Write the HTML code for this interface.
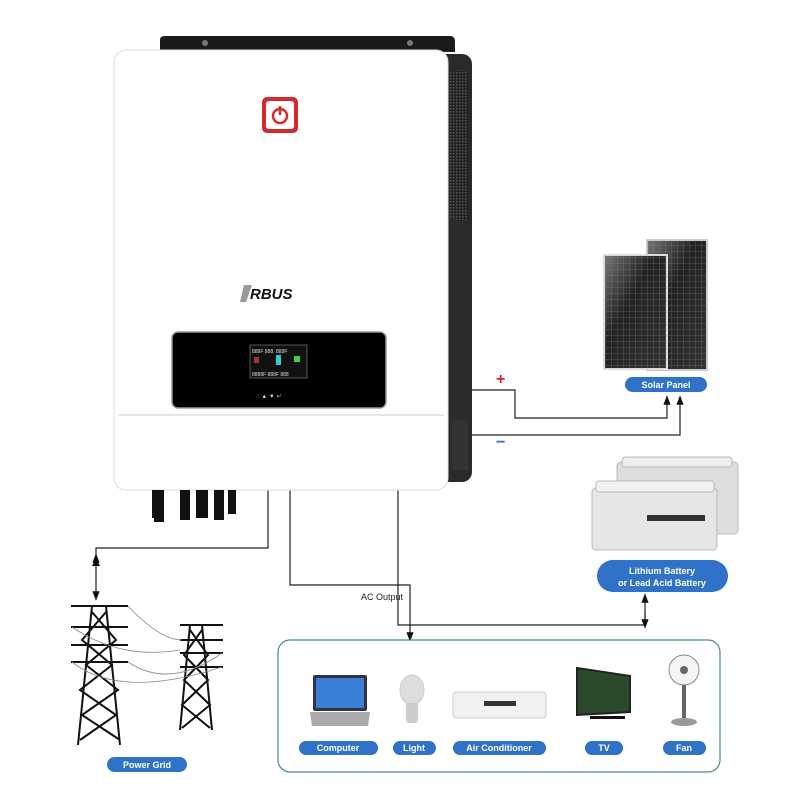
<!DOCTYPE html>
<html><head><meta charset="utf-8"><style>
html,body{margin:0;padding:0;background:#fff;width:800px;height:800px;overflow:hidden}
svg{display:block}
text{font-family:"Liberation Sans",sans-serif}
</style></head><body>
<svg width="800" height="800" viewBox="0 0 800 800" xmlns="http://www.w3.org/2000/svg">
<defs>
<marker id="ah" markerWidth="8" markerHeight="8" refX="4" refY="4" orient="auto"><path d="M0,1 L8,4 L0,7 Z" fill="#111"/></marker>
<linearGradient id="pv" x1="0" y1="0" x2="1" y2="1"><stop offset="0" stop-color="#777"/><stop offset="0.4" stop-color="#222"/><stop offset="1" stop-color="#333"/></linearGradient>
<pattern id="grid" width="6" height="6" patternUnits="userSpaceOnUse"><path d="M6 0V6M0 6H6" stroke="#888" stroke-width="0.5"/></pattern>
<pattern id="vent" width="3" height="3" patternUnits="userSpaceOnUse"><rect width="3" height="3" fill="#222"/><rect width="1.5" height="1.5" fill="#555"/></pattern>
</defs>

<!-- connector lines -->
<g stroke="#222" stroke-width="1.2" fill="none">
<path d="M470 390 H515 V418 H667 V400" marker-end="url(#ah)"/>
<path d="M470 435 H680 V400" marker-end="url(#ah)"/>
<path d="M268 490 V548 H96 V596" marker-end="url(#ah)"/>
<path d="M96 560 V558" marker-end="url(#ah)" transform="rotate(0)"/>
<path d="M290 490 V585 H410 V637" marker-end="url(#ah)"/>
<path d="M398 490 V625 H645 V598" marker-end="url(#ah)"/>
<path d="M645 612 V624" marker-end="url(#ah)"/>
</g>
<path d="M92 566 L96 558 L100 566Z" fill="#111"/>
<text x="496" y="384" font-size="16" font-weight="bold" fill="#d22">+</text>
<text x="496" y="447" font-size="16" font-weight="bold" fill="#2a6acb">−</text>
<text x="361" y="600" font-size="9" fill="#222">AC Output</text>

<!-- inverter -->
<path d="M160 50 V40 Q160 36 165 36 H450 Q455 36 455 42 V52 Z" fill="#1a1a1a"/>
<circle cx="205" cy="43" r="3" fill="#777"/><circle cx="410" cy="43" r="3" fill="#777"/>
<rect x="432" y="54" width="40" height="428" rx="10" fill="#2a2a2a"/>
<rect x="450" y="70" width="18" height="150" rx="4" fill="url(#vent)"/>
<rect x="452" y="420" width="16" height="50" fill="#333"/>
<rect x="114" y="50" width="334" height="440" rx="12" fill="#fff" stroke="#ddd"/>
<line x1="118" y1="415" x2="444" y2="415" stroke="#ccc"/>
<rect x="262" y="97" width="36" height="36" rx="5" fill="#d42a2a"/>
<rect x="266" y="101" width="28" height="28" rx="3" fill="#fff"/>
<circle cx="280" cy="116" r="7" fill="none" stroke="#d42a2a" stroke-width="2.5"/>
<line x1="280" y1="106" x2="280" y2="115" stroke="#d42a2a" stroke-width="2.5"/>
<path d="M244 285 L252 285 L246 302 L240 302Z" fill="#999"/>
<text x="250" y="299" font-size="15" font-weight="bold" font-style="italic" fill="#111">RBUS</text>
<rect x="172" y="332" width="214" height="76" rx="6" fill="#000" stroke="#999" stroke-width="1.5"/>
<rect x="250" y="345" width="57" height="33" fill="#111" stroke="#555"/>
<rect x="276" y="355" width="5" height="10" fill="#3cc"/><rect x="294" y="356" width="6" height="6" fill="#4c4"/>
<rect x="254" y="357" width="5" height="6" fill="#a33"/>
<text x="252" y="353" font-size="5" fill="#ddd">888F 888. 888F</text>
<text x="252" y="376" font-size="5" fill="#ddd">8888F 888F 888</text>
<text x="256" y="398" font-size="6" fill="#ccc">◌  ▲  ▼  ↵</text>
<g fill="#111">
<rect x="152" y="490" width="12" height="28"/><rect x="154" y="516" width="10" height="6"/>
<rect x="180" y="490" width="10" height="30"/><rect x="196" y="490" width="12" height="28"/><rect x="214" y="490" width="10" height="30"/><rect x="228" y="490" width="8" height="24"/>
</g>

<!-- solar -->
<rect x="647" y="240" width="60" height="130" fill="url(#pv)" stroke="#ccc" stroke-width="2"/>
<rect x="647" y="240" width="60" height="130" fill="url(#grid)"/>
<rect x="604" y="255" width="63" height="114" fill="url(#pv)" stroke="#ddd" stroke-width="2"/>
<rect x="604" y="255" width="63" height="114" fill="url(#grid)"/>
<rect x="625" y="377" width="82" height="15" rx="7.5" fill="#2f72c8"/>
<text x="666" y="388" font-size="9" font-weight="bold" fill="#fff" text-anchor="middle">Solar Panel</text>

<!-- battery -->
<rect x="617" y="462" width="121" height="72" rx="4" fill="#dedede" stroke="#bbb"/>
<rect x="622" y="457" width="110" height="10" rx="3" fill="#eee" stroke="#bbb"/>
<rect x="592" y="488" width="125" height="62" rx="4" fill="#e6e6e6" stroke="#bbb"/>
<rect x="596" y="481" width="118" height="11" rx="3" fill="#f2f2f2" stroke="#bbb"/>
<rect x="647" y="515" width="58" height="6" fill="#333"/>
<rect x="597" y="560" width="131" height="32" rx="16" fill="#2f72c8"/>
<text x="662" y="574" font-size="9" font-weight="bold" fill="#fff" text-anchor="middle">Lithium Battery</text>
<text x="662" y="586" font-size="9" font-weight="bold" fill="#fff" text-anchor="middle">or Lead Acid Battery</text>

<!-- towers -->
<g stroke="#111" stroke-width="2" fill="none">
<path d="M92 606 L78 745 M106 606 L120 745"/>
<path d="M92 612 L116 640 L86 665 L118 690 L82 715 L120 740 M106 612 L82 640 L112 665 L80 690 L116 715 L80 740"/>
<path d="M71 606 H128 M71 627 H128 M71 645 H128 M71 662 H128"/>
<path d="M190 625 L180 730 M202 625 L212 730"/>
<path d="M190 630 L208 655 L184 680 L210 705 L182 728 M202 630 L184 655 L208 680 L182 705 L210 728"/>
<path d="M180 625 H223 M180 640 H223 M180 653 H223 M180 667 H223"/>
</g>
<g stroke="#888" stroke-width="0.8" fill="none">
<path d="M128 606 Q160 640 182 640"/><path d="M72 627 Q120 660 180 650"/>
<path d="M72 662 Q120 700 222 667"/><path d="M128 662 Q170 690 222 653"/>
</g>
<rect x="107" y="757" width="80" height="15" rx="7.5" fill="#2f72c8"/>
<text x="147" y="768" font-size="9" font-weight="bold" fill="#fff" text-anchor="middle">Power Grid</text>

<!-- loads -->
<rect x="278" y="640" width="442" height="132" rx="12" fill="#fff" stroke="#4a8a90" stroke-width="1.2"/>
<rect x="313" y="675" width="54" height="36" rx="2" fill="#334" /><rect x="316" y="678" width="48" height="30" fill="#3a7fd8"/>
<path d="M310 712 H370 L368 726 H312 Z" fill="#aaa"/>
<ellipse cx="412" cy="690" rx="12" ry="15" fill="#ddd" stroke="#ccc"/>
<rect x="406" y="703" width="12" height="20" rx="3" fill="#ccc"/>
<rect x="453" y="692" width="93" height="26" rx="3" fill="#f1f1f1" stroke="#ccc"/>
<rect x="484" y="701" width="32" height="5" fill="#333"/>
<path d="M577 668 L630 676 V712 L577 715Z" fill="#2b4a2b" stroke="#222" stroke-width="2"/>
<rect x="590" y="716" width="35" height="3" fill="#111"/>
<circle cx="684" cy="670" r="15" fill="#f5f5f5" stroke="#888"/><circle cx="684" cy="670" r="4" fill="#666"/>
<rect x="682" y="685" width="4" height="35" fill="#666"/>
<ellipse cx="684" cy="722" rx="13" ry="4" fill="#999"/>
<g fill="#2f72c8">
<rect x="299" y="741" width="79" height="14" rx="7"/>
<rect x="393" y="741" width="43" height="14" rx="7"/>
<rect x="453" y="741" width="93" height="14" rx="7"/>
<rect x="585" y="741" width="38" height="14" rx="7"/>
<rect x="663" y="741" width="43" height="14" rx="7"/>
</g>
<g font-size="9" font-weight="bold" fill="#fff" text-anchor="middle">
<text x="338" y="751">Computer</text><text x="414" y="751">Light</text>
<text x="499" y="751">Air Conditioner</text><text x="604" y="751">TV</text><text x="684" y="751">Fan</text>
</g>
</svg>
</body></html>
